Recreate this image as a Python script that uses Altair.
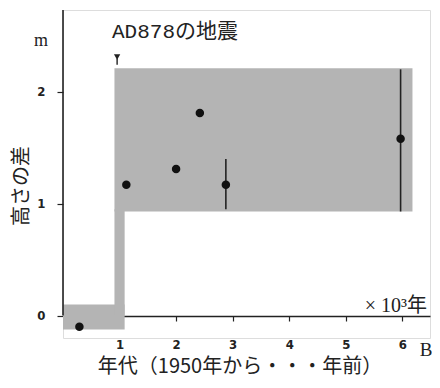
import altair as alt
import pandas as pd

# --- data ---
pt_x = [0.29, 1.12, 2.0, 2.42, 2.88, 5.97]
pt_y = [-0.10, 1.17, 1.31, 1.81, 1.17, 1.58]

err_x = [2.88, 5.97]
err_lo = [0.95, 0.93]
err_hi = [1.40, 2.20]

# shaded band (step-shaped range): x0, x1, y0, y1
band_x0 = [0.0, 0.91, 0.91]
band_x1 = [1.09, 1.09, 6.18]
band_y0 = [-0.125, 0.0, 0.93]
band_y1 = [0.10, 0.95, 2.21]

x_ticks = [1, 2, 3, 4, 5, 6]
y_ticks = [0, 1, 2]
x_max = 6.49
y_min, y_max = -0.2, 2.73

event_x = 0.957
event_y = 2.31

LATIN = "Liberation Sans Narrow, Arial Narrow, DejaVu Sans Condensed, Noto Sans CJK JP, sans-serif"
JP = "Liberation Mono, Noto Sans CJK JP, sans-serif"
SERIF = "Liberation Serif, DejaVu Serif, serif"
INK = "#222222"

xs = alt.Scale(domain=[0, x_max], nice=False, zero=False)
ys = alt.Scale(domain=[y_min, y_max], nice=False, zero=False)

bands = pd.DataFrame({"x0": band_x0, "x1": band_x1, "y0": band_y0, "y1": band_y1})
pts = pd.DataFrame({"x": pt_x, "y": pt_y})
errs = pd.DataFrame({"x": err_x, "lo": err_lo, "hi": err_hi})

band = alt.Chart(bands).mark_rect(color="#b4b4b4").encode(
    x=alt.X("x0:Q", scale=xs,
            axis=alt.Axis(values=x_ticks, format="d", offset=-22, domainColor=INK,
                          domainWidth=1.6, tickColor=INK, tickSize=5, tickWidth=1.2,
                          labelPadding=17, labelFont=LATIN, labelFontSize=13,
                          labelFontWeight="bold", labelColor=INK, grid=False, title="")),
    x2="x1:Q",
    y=alt.Y("y0:Q", scale=ys,
            axis=alt.Axis(values=y_ticks, format="d", domain=False, tickColor=INK,
                          tickSize=6, tickWidth=1.2, labelPadding=12, labelFont=LATIN,
                          labelFontSize=13, labelFontWeight="bold", labelColor=INK,
                          grid=False, title="")),
    y2="y1:Q",
)

yaxis_line = alt.Chart(pd.DataFrame({"x": [0.0], "y0": [0.0], "y1": [y_max]})).mark_rule(
    color=INK, strokeWidth=1.6).encode(x=alt.X("x:Q", scale=xs), y=alt.Y("y0:Q", scale=ys), y2="y1:Q")

err = alt.Chart(errs).mark_rule(color=INK, strokeWidth=1.6).encode(
    x=alt.X("x:Q", scale=xs), y=alt.Y("lo:Q", scale=ys), y2="hi:Q")

dots = alt.Chart(pts).mark_circle(color="#111111", opacity=1, size=72).encode(
    x=alt.X("x:Q", scale=xs), y=alt.Y("y:Q", scale=ys))

marker = alt.Chart(pd.DataFrame({"x": [event_x], "y": [event_y]})).mark_point(
    shape="triangle-down", filled=True, color=INK, size=40, opacity=1).encode(
    x=alt.X("x:Q", scale=xs), y=alt.Y("y:Q", scale=ys))
stem = alt.Chart(pd.DataFrame({"x": [event_x], "y0": [event_y - 0.01], "y1": [event_y - 0.07]})).mark_rule(
    color=INK, strokeWidth=1.4).encode(x=alt.X("x:Q", scale=xs), y=alt.Y("y0:Q", scale=ys), y2="y1:Q")

def label(text, px, py, font, size, align="center", angle=0, baseline="middle"):
    kw = dict(text=text, font=font, fontSize=size, color=INK, align=align, baseline=baseline)
    if angle:
        kw["angle"] = angle
    return alt.Chart(pd.DataFrame({"t": [text]})).mark_text(**kw).encode(
        x=alt.value(px), y=alt.value(py))

texts = [
    label("m", -22, 31, SERIF, 18),
    label("高さの差", -41, 176, JP, 20, angle=270),
    label("AD878の地震", 49, 22, JP, 21, align="left"),
    label("× 10³年", 364, 296, "Liberation Serif, Noto Sans CJK JP, serif", 20, align="right"),
    label("B", 363, 340, SERIF, 19),
    label("年代（1950年から・・・年前）", 177, 357, "Liberation Sans Narrow, Noto Sans CJK JP, sans-serif", 20),
]

chart = alt.layer(band, yaxis_line, err, dots, marker, stem, *texts).properties(
    width=367, height=328,
    autosize=alt.AutoSizeParams(type="none"),
    padding={"left": 55, "top": 2, "right": 2, "bottom": 42},
).configure_view(stroke=None).configure(background="white")

chart.save("out.html", embed_options={"renderer": "svg", "actions": False})
